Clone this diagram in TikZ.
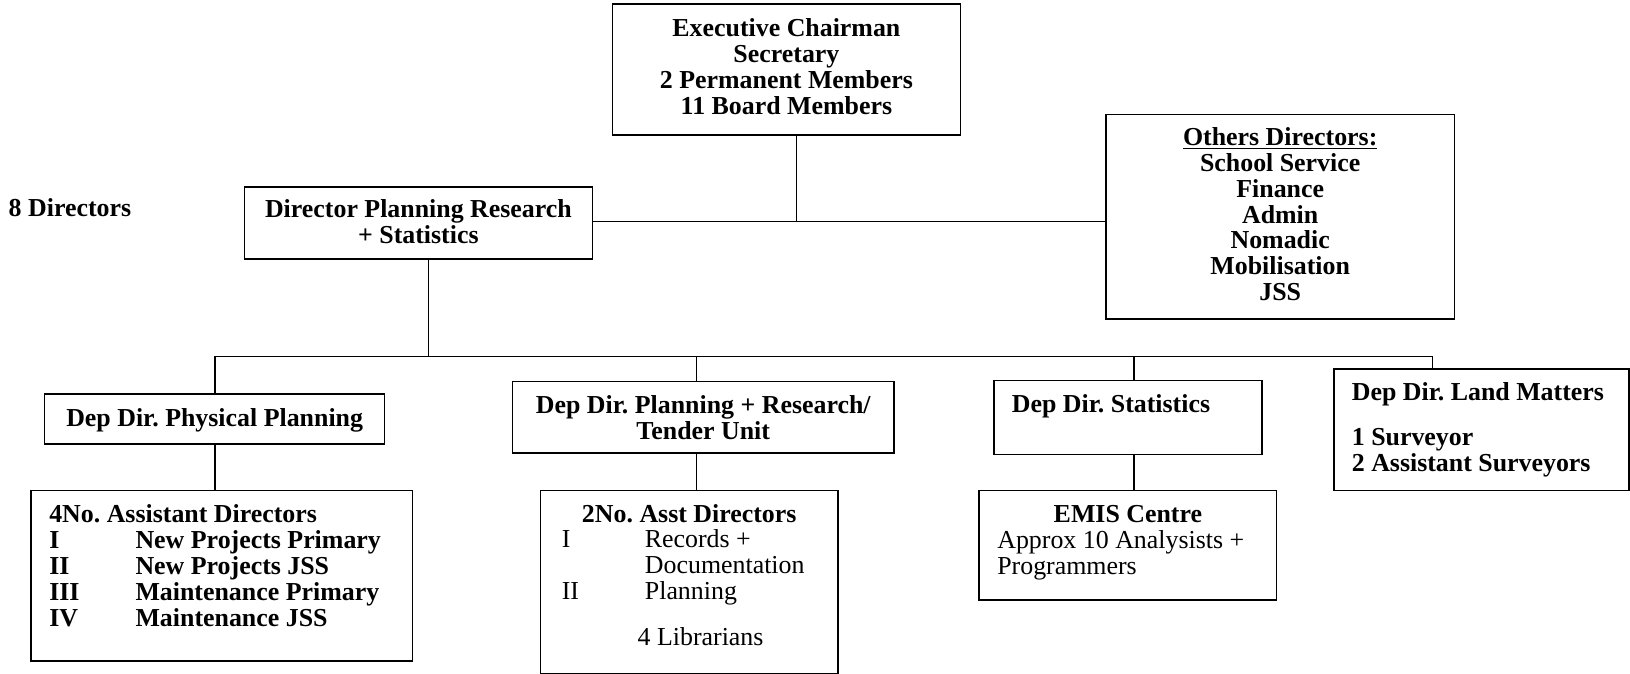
\documentclass[tikz,border=0pt]{standalone}
\usepackage{fontspec}
\setmainfont{Liberation Serif}
\usetikzlibrary{fit}
\frenchspacing
\begin{document}
\begin{tikzpicture}[x=0.5pt,y=-0.5pt,
  every node/.style={font=\fontsize{12.45}{12.5}\selectfont\bfseries},
  bx/.style={draw, line width=0.75pt, inner sep=0pt},
  ctr/.style={inner sep=0pt, align=center},
  txt/.style={inner sep=0pt, anchor=base west},
  reg/.style={font=\fontsize{12.45}{12.5}\selectfont\mdseries},
  ln/.style={draw, line width=0.75pt}]
\useasboundingbox (0,0) rectangle (1568,648);
% upper boxes
\node[bx, fit={(589,4)(924,130)}] (top) {};
\node[ctr] (topT) at ([yshift=1.5pt]top.center) {Executive Chairman\\Secretary\\2 Permanent Members\\11 Board Members};
\node[bx, fit={(235,180)(570,249)}] (dpr) {};
\node[ctr] (dprT) at ([yshift=0.75pt]dpr.center) {Director Planning Research\\+ Statistics};
\node[bx, fit={(1064,110)(1399,307)}] (oth) {};
\node[ctr] (othT) at ([yshift=1.25pt]oth.center) {\underline{Others Directors:}\\School Service\\Finance\\Admin\\Nomadic\\Mobilisation\\JSS};
\node[txt] (eight) at (8,208) {8 Directors};
% deputy directors
\node[bx, fit={(43,379)(370,427)}] (phys) {};
\node[ctr] (physT) at ([yshift=-0.5pt]phys.center) {Dep Dir. Physical Planning};
\node[bx, fit={(493,367)(860,436)}] (mid) {};
\node[ctr] (midT) at ([yshift=-0.25pt]mid.center) {Dep Dir. Planning + Research/\\Tender Unit};
\node[bx, fit={(956,366)(1214,437)}] (stat) {};
\node[txt] (statT) at (973,397) {Dep Dir. Statistics};
\node[bx, fit={(1283,355)(1567,472)}] (land) {};
\node[txt] (landT) at (1300,385) {\begin{tabular}[t]{@{}l@{}}Dep Dir. Land Matters\\[9.5pt]1 Surveyor\\2 Assistant Surveyors\end{tabular}};
% lower boxes
\node[bx, fit={(30,472)(397,636)}] (asst) {};
\node[txt] (asstT) at (47,502.5) {\begin{tabular}[t]{@{}p{41.5pt}@{}l@{}}\multicolumn{2}{@{}l@{}}{4No. Assistant Directors}\\I & New Projects Primary\\II & New Projects JSS\\III & Maintenance Primary\\IV & Maintenance JSS\end{tabular}};
\node[bx, fit={(520,472)(806,648)}] (mid2) {};
\node[inner sep=0pt, anchor=base] (mid2H) at (663,502.5) {2No. Asst Directors};
\node[txt, reg] (mid2T) at (540,526.5) {\begin{tabular}[t]{@{}p{40pt}@{}l@{}}I & Records +\\ & Documentation\\II & Planning\end{tabular}};
\node[txt, reg] (lib) at (613,620.5) {4 Librarians};
\node[bx, fit={(942,472)(1228,577)}] (emis) {};
\node[inner sep=0pt, anchor=base] (emisH) at (1085,502.5) {EMIS Centre};
\node[txt, reg] (emisT) at (959,527.5) {\begin{tabular}[t]{@{}l@{}}Approx 10 Analysists +\\Programmers\end{tabular}};
% connectors
\coordinate (j1) at (766,213);
\draw[ln] (top.south -| j1) -- (j1);
\draw[ln] (dpr.east |- j1) -- (oth.west |- j1);
\coordinate (j2) at (412,343);
\draw[ln] (dpr.south -| j2) -- (j2);
\coordinate (b1) at (207,343);
\coordinate (b2) at (670,343);
\coordinate (b3) at (1091,343);
\coordinate (b4) at (1378,343);
\draw[ln] (phys.north -| b1) -- (b1) -- (b4) -- (land.north -| b4);
\draw[ln] (b2) -- (mid.north -| b2);
\draw[ln] (b3) -- (stat.north -| b3);
\draw[ln] (phys.south -| b1) -- (asst.north -| b1);
\draw[ln] (mid.south -| b2) -- (mid2.north -| b2);
\draw[ln] (stat.south -| b3) -- (emis.north -| b3);
\end{tikzpicture}
\end{document}
